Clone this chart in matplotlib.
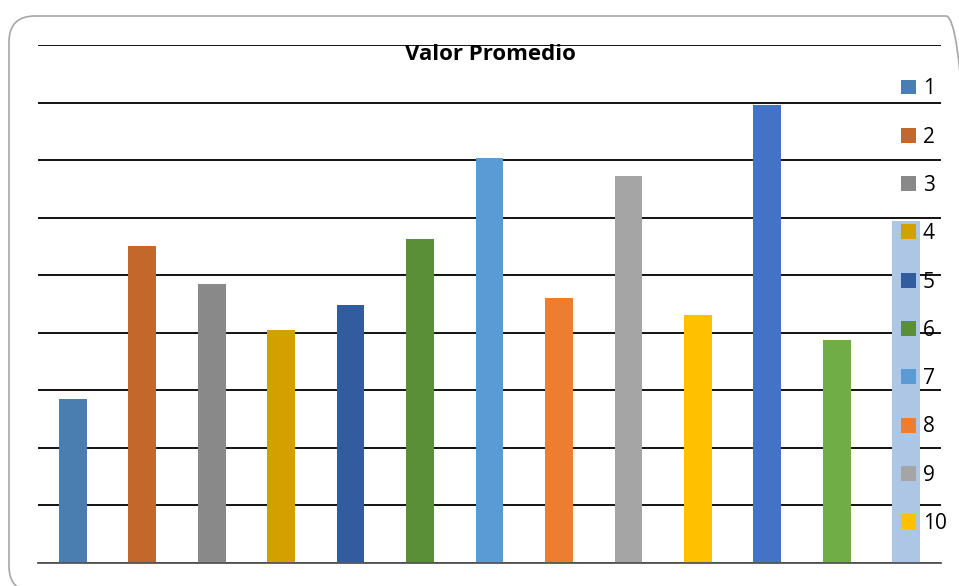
import matplotlib.pyplot as plt
from matplotlib.patches import FancyBboxPatch
from matplotlib.transforms import IdentityTransform

# Valor promedio por grupo
categories = ['1', '2', '3', '4', '5', '6', '7', '8', '9', '10', '11', '12', '13']
values = [2.85, 5.50, 4.84, 4.05, 4.48, 5.63, 7.03, 4.60, 6.72, 4.31, 7.95, 3.87, 5.94]
colors = ['#4A7EB0', '#C4672A', '#898989', '#D3A000', '#335CA0', '#5A8F38',
          '#5B9BD5', '#ED7D31', '#A5A5A5', '#FFC000', '#4472C4', '#70AD47', '#ADC6E5']

plt.rcParams['font.family'] = ['Open Sans', 'DejaVu Sans']

fig = plt.figure(figsize=(9.59, 5.86), dpi=100)

# rounded chart frame in pixels (runs off the right and bottom edges)
frame = FancyBboxPatch((9, -6), 963, 576,
                       boxstyle='round,pad=0,rounding_size=26',
                       transform=IdentityTransform(), facecolor='none',
                       edgecolor='#A6A6A6', linewidth=1.2, zorder=-1)
fig.patches.append(frame)

ax = fig.add_axes([38 / 959, 23 / 586, 903 / 959, 518 / 586])
ax.set_facecolor('none')

x = range(len(categories))
bars = ax.bar(x, values, width=0.4, color=colors, zorder=2)

ax.set_xlim(-0.5, len(categories) - 0.5)
ax.set_ylim(0, 9)
ax.set_yticks(range(0, 10))
ax.yaxis.grid(True, color='black', linewidth=1.3, zorder=1)
ax.set_axisbelow(True)
ax.tick_params(left=False, bottom=False, labelleft=False, labelbottom=False)
for s in ['top', 'right', 'left']:
    ax.spines[s].set_visible(False)
ax.spines['bottom'].set_color('#555555')
ax.spines['bottom'].set_linewidth(1.3)

fig.text(490 / 959, 1 - 54 / 586, 'Valor Promedio', ha='center', va='center',
         fontsize=16, fontweight='bold')

leg = ax.legend(bars[:10], categories[:10], loc='upper left',
                bbox_to_anchor=(893 / 959, 1 - 70 / 586), bbox_transform=fig.transFigure,
                frameon=False, fontsize=15, handlelength=0.72, handleheight=0.72,
                handletextpad=0.3, labelspacing=1.31, borderaxespad=0)
leg.set_zorder(5)

fig.savefig('out.png', dpi=100)
